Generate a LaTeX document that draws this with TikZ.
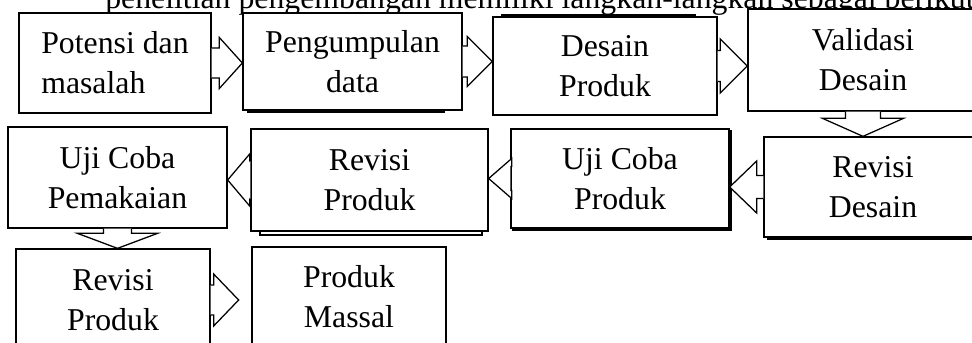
\documentclass[tikz,border=0pt]{standalone}
\usepackage{fontspec}
\setmainfont{Liberation Serif}
\usetikzlibrary{calc}

\tikzset{
  kotak/.style={draw, line width=0.9pt, fill=white, align=center, inner sep=0pt,
    font=\fontsize{22.6}{28.5}\selectfont},
  bayang/.style={draw, line width=0.9pt, fill=white},
  panah/.style={draw, line width=0.9pt, fill=white, line join=miter}
}

% block arrows: tail, tip, shaft half, head half, head length
\newcommand{\harr}[5]{%
\draw[panah] ($(#1)+(0,{-#3})$) -- ($(#2)+({-(#5)},{-#3})$) -- ($(#2)+({-(#5)},{-#4})$)
  -- (#2) -- ($(#2)+({-(#5)},#4)$) -- ($(#2)+({-(#5)},#3)$) -- ($(#1)+(0,#3)$);}
\newcommand{\varr}[5]{%
\draw[panah] ($(#1)+({-#3},0)$) -- ($(#2)+({-#3},{-(#5)})$) -- ($(#2)+({-#4},{-(#5)})$)
  -- (#2) -- ($(#2)+(#4,{-(#5)})$) -- ($(#2)+(#3,{-(#5)})$) -- ($(#1)+(#3,0)$);}

\begin{document}
\begin{tikzpicture}[x=0.025cm,y=-0.025cm]
\useasboundingbox (0,0) rectangle (972,342);
\clip (0,0) rectangle (972,342);

\node[anchor=base west, inner sep=0pt, font=\fontsize{22.6}{28.5}\selectfont] (judul) at (105,8)
  {penelitian pengembangan memiliki langkah-langkah sebagai berikut};

% shapes lying behind
\draw[bayang] (248,15) rectangle (444,112);
\draw[bayang] (502,15) rectangle (695,114);
\draw[bayang] (768,139) rectangle (990,239);
\draw[bayang, line width=1.4pt] (513,131) rectangle (731,230);
\draw[bayang] (260,131) rectangle (482,235);

% first row
\node[kotak, align=left, minimum width=4.8cm, minimum height=2.5cm] (pm1) at (115,63)
  {Potensi dan\\masalah};
\node[kotak, minimum width=5.475cm, minimum height=2.425cm] (pd) at (352.5,61.5)
  {Pengumpulan\\data};
\node[kotak, minimum width=5.6cm, minimum height=2.45cm] (dp) at (605,66)
  {Desain\\Produk};
\node[kotak, minimum width=5.75cm, minimum height=2.55cm] (vd) at (863,60)
  {Validasi\\Desain};

% second row
\node[kotak, minimum width=5.45cm, minimum height=2.5cm] (rd) at (873,187)
  {Revisi\\Desain};
\node[kotak, minimum width=5.45cm, minimum height=2.475cm] (ucp) at (620,178.5)
  {Uji Coba\\Produk};
\node[kotak, minimum width=5.925cm, minimum height=2.55cm] (rp) at (369.5,180)
  {Revisi\\Produk};
\node[kotak, minimum width=5.475cm, minimum height=2.525cm] (ucpk) at (117.5,177.5)
  {Uji Coba\\Pemakaian};

% third row
\node[kotak, minimum width=4.85cm, minimum height=2.55cm] (rp2) at (113,300)
  {Revisi\\Produk};
\node[kotak, minimum width=4.85cm, minimum height=2.5cm] (mas) at (349,297)
  {Produk\\Massal};
\coordinate (ujung) at ($(rp2.east)+(28,0)$);

\harr{pm1.east}{pd.west|-pm1.east}{15}{25.5}{23}
\harr{pd.east}{dp.west|-pd.east}{15.5}{25}{25}
\harr{dp.east}{vd.west|-dp.east}{15.5}{27}{27}
\varr{vd.south}{vd.south|-rd.north}{17.5}{40.5}{18}
\harr{rd.west}{ucp.east|-rd.west}{11.5}{26}{-27}
\harr{ucp.west}{rp.east|-ucp.west}{12}{20}{-23}
\harr{rp.west}{ucpk.east|-rp.west}{19}{26}{-22}
\varr{ucpk.south}{ucpk.south|-rp2.north}{14}{40}{15}
\harr{rp2.east}{ujung}{15}{26}{25}
\end{tikzpicture}
\end{document}
